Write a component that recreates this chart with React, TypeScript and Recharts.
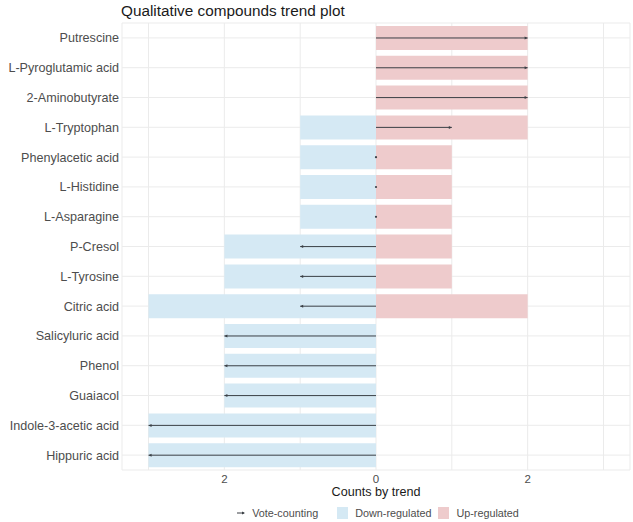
import { ComposedChart, Bar, XAxis, YAxis, CartesianGrid } from "recharts";

const FONT = '"Liberation Sans", Arial, sans-serif';
const DOWN_COLOR = "#d5e9f4";
const UP_COLOR = "#eecbcc";
const VOTE_COLOR = "#3a3f45";
const GRID_COLOR = "#ebebeb";
const TEXT_COLOR = "#4d4d4d";

const compounds = [
  "Putrescine",
  "L-Pyroglutamic acid",
  "2-Aminobutyrate",
  "L-Tryptophan",
  "Phenylacetic acid",
  "L-Histidine",
  "L-Asparagine",
  "P-Cresol",
  "L-Tyrosine",
  "Citric acid",
  "Salicyluric acid",
  "Phenol",
  "Guaiacol",
  "Indole-3-acetic acid",
  "Hippuric acid",
];
const downCounts = [0, 0, 0, 1, 1, 1, 1, 2, 2, 3, 2, 2, 2, 3, 3];
const upCounts = [2, 2, 2, 2, 1, 1, 1, 1, 1, 2, 0, 0, 0, 0, 0];
const voteCounts = [2, 2, 2, 1, 0, 0, 0, -1, -1, -1, -2, -2, -2, -3, -3];
const xTicks = [-3, -2, -1, 0, 1, 2, 3];
const labelledTicks = [-2, 0, 2];

const chartData = compounds.map((name, i) => ({
  name,
  down: -downCounts[i],
  up: upCounts[i],
  vote: [0, voteCounts[i]],
}));

// line from zero to the net count, with a tiny head at the end
const VoteArrow = (props: any) => {
  const { x, y, width, height, payload } = props;
  const v = payload?.vote?.[1] ?? 0;
  const cy = y + height / 2;
  const lo = Math.min(x, x + width);
  const hi = Math.max(x, x + width);
  const start = v >= 0 ? lo : hi;
  const end = v >= 0 ? hi : lo;
  if (v === 0) {
    return <circle cx={start} cy={cy} r={1.1} fill={VOTE_COLOR} />;
  }
  const dir = v > 0 ? 1 : -1;
  return (
    <g>
      <line x1={start} y1={cy} x2={end} y2={cy} stroke={VOTE_COLOR} strokeWidth={1} />
      <path
        d={`M${end},${cy} L${end - dir * 3},${cy - 1.5} L${end - dir * 3},${cy + 1.5} Z`}
        fill={VOTE_COLOR}
      />
    </g>
  );
};

// single-line labels, no wrapping
const CompoundTick = (props: any) => {
  const { x, y, payload } = props;
  return (
    <text
      x={x}
      y={y}
      dy="0.35em"
      textAnchor="end"
      fontSize={12.6}
      fill={TEXT_COLOR}
      fontFamily={FONT}
    >
      {payload.value}
    </text>
  );
};

const LegendKey = ({ color }: { color: string }) => (
  <span style={{ display: "inline-block", width: 11, height: 12, background: color }} />
);

export default function App() {
  return (
    <div
      style={{
        position: "absolute",
        left: 0,
        top: 0,
        width: 633,
        height: 522,
        background: "#fff",
        fontFamily: FONT,
      }}
    >
      <div
        style={{
          position: "absolute",
          left: 121,
          top: 2,
          fontSize: 15.3,
          color: "#1a1a1a",
          whiteSpace: "nowrap",
        }}
      >
        Qualitative compounds trend plot
      </div>
      <ComposedChart
        layout="vertical"
        width={633}
        height={522}
        data={chartData}
        margin={{ top: 23, right: 3, bottom: 24, left: 1 }}
        barCategoryGap="10%"
      >
        <CartesianGrid stroke={GRID_COLOR} strokeWidth={1} />
        <XAxis
          type="number"
          domain={[-3.35, 3.35]}
          ticks={xTicks}
          allowDataOverflow
          tickFormatter={(v: number) => (labelledTicks.includes(v) ? String(Math.abs(v)) : "")}
          tick={{ fontSize: 11.5, fill: TEXT_COLOR, fontFamily: FONT }}
          axisLine={false}
          tickLine={false}
          tickSize={4}
          tickMargin={1}
          height={28}
          label={{
            value: "Counts by trend",
            position: "insideBottom",
            offset: 2,
            style: { fontSize: 12.6, fill: "#1a1a1a", fontFamily: FONT },
          }}
        />
        <YAxis
          type="category"
          dataKey="name"
          width={121}
          axisLine={false}
          tickLine={false}
          tickSize={0}
          tickMargin={3}
          tick={<CompoundTick />}
        />
        <YAxis yAxisId="up" type="category" dataKey="name" hide />
        <YAxis yAxisId="vote" type="category" dataKey="name" hide />
        <Bar dataKey="down" fill={DOWN_COLOR} isAnimationActive={false} />
        <Bar yAxisId="up" dataKey="up" fill={UP_COLOR} isAnimationActive={false} />
        <Bar yAxisId="vote" dataKey="vote" shape={VoteArrow} isAnimationActive={false} />
      </ComposedChart>
      <div
        style={{
          position: "absolute",
          left: 122,
          top: 507,
          width: 511,
          display: "flex",
          justifyContent: "center",
          alignItems: "center",
          fontSize: 10.8,
          color: TEXT_COLOR,
          whiteSpace: "nowrap",
        }}
      >
        <svg width={10} height={12} style={{ marginRight: 6 }}>
          <line x1={1} y1={6} x2={8} y2={6} stroke={VOTE_COLOR} strokeWidth={1} />
          <path d="M9,6 L6,4.5 L6,7.5 Z" fill={VOTE_COLOR} />
        </svg>
        <span style={{ marginRight: 19 }}>Vote-counting</span>
        <LegendKey color={DOWN_COLOR} />
        <span style={{ marginLeft: 7, marginRight: 7 }}>Down-regulated</span>
        <LegendKey color={UP_COLOR} />
        <span style={{ marginLeft: 7 }}>Up-regulated</span>
      </div>
    </div>
  );
}
